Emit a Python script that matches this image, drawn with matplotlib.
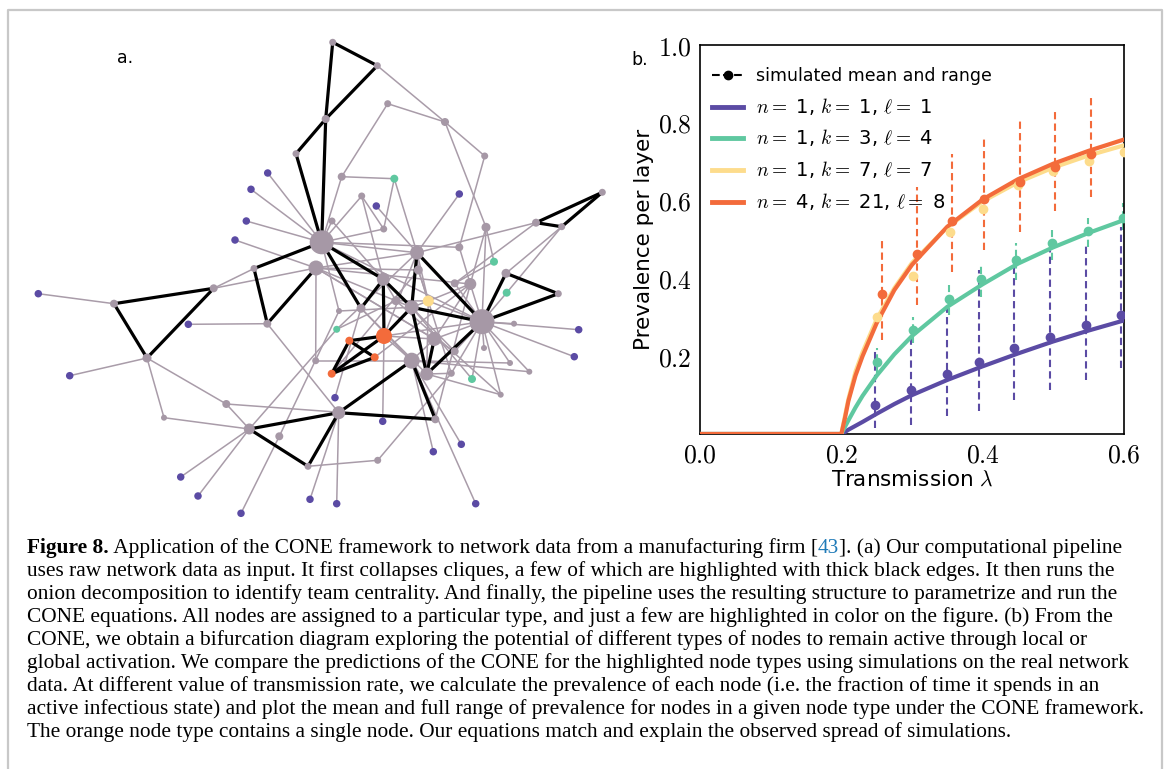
import matplotlib
matplotlib.use('Agg')
import matplotlib.pyplot as plt
from matplotlib.lines import Line2D
from matplotlib.legend_handler import HandlerLine2D

plt.rcParams['mathtext.fontset'] = 'cm'
plt.rcParams['font.family'] = 'DejaVu Sans'

#colours of the node types
PURPLE = '#5b4ba4'
TEAL = '#5fc8a0'
YELLOW = '#fddc8c'
ORANGE = '#f36b3b'
NODE_GRAY = '#a698a6'
EDGE_GRAY = '#a99ca9'

#---------------- panel b data ----------------
#theory curves (CONE)
lam_curve = [0.0, 0.2, 0.205, 0.21, 0.22, 0.23, 0.25, 0.275, 0.3, 0.35, 0.4, 0.45, 0.5, 0.55, 0.6]
prev_purple = [0.0, 0.0, 0.005, 0.011, 0.021, 0.031, 0.052, 0.077, 0.1, 0.139, 0.174, 0.207, 0.238, 0.266, 0.292]
prev_teal = [0.0, 0.0, 0.018, 0.035, 0.068, 0.098, 0.15, 0.205, 0.252, 0.327, 0.385, 0.438, 0.48, 0.517, 0.55]
prev_yellow = [0.0, 0.0, 0.045, 0.09, 0.16, 0.21, 0.295, 0.375, 0.44, 0.532, 0.598, 0.647, 0.685, 0.716, 0.742]
prev_orange = [0.0, 0.0, 0.04, 0.085, 0.15, 0.2, 0.285, 0.37, 0.435, 0.533, 0.603, 0.655, 0.695, 0.728, 0.757]

#simulations: mean and full range
sim_lam_purple = [0.248, 0.299, 0.349, 0.395, 0.445, 0.495, 0.546, 0.596]
sim_mean_purple = [0.075, 0.113, 0.153, 0.184, 0.222, 0.249, 0.28, 0.306]
sim_lo_purple = [0.015, 0.023, 0.045, 0.058, 0.087, 0.113, 0.139, 0.169]
sim_hi_purple = [0.216, 0.267, 0.344, 0.422, 0.456, 0.473, 0.49, 0.533]

sim_lam_teal = [0.25, 0.301, 0.352, 0.398, 0.447, 0.498, 0.549, 0.598]
sim_mean_teal = [0.186, 0.267, 0.346, 0.398, 0.447, 0.492, 0.522, 0.556]
sim_lo_teal = [0.156, 0.233, 0.306, 0.353, 0.396, 0.447, 0.482, 0.524]
sim_hi_teal = [0.22, 0.30, 0.383, 0.434, 0.49, 0.524, 0.554, 0.593]

sim_lam_yellow = [0.25, 0.302, 0.354, 0.4, 0.45, 0.5, 0.55, 0.6]
sim_mean_yellow = [0.30, 0.406, 0.518, 0.578, 0.64, 0.676, 0.702, 0.725]

sim_lam_orange = [0.257, 0.307, 0.356, 0.402, 0.453, 0.503, 0.553]
sim_mean_orange = [0.36, 0.463, 0.548, 0.604, 0.649, 0.687, 0.72]
sim_lo_orange = [0.242, 0.332, 0.417, 0.473, 0.52, 0.572, 0.61]
sim_hi_orange = [0.507, 0.636, 0.721, 0.766, 0.807, 0.833, 0.867]

legend_labels = ['simulated mean and range',
                 r'$n=$ 1, $k=$ 1, $\ell=$ 1',
                 r'$n=$ 1, $k=$ 3, $\ell=$ 4',
                 r'$n=$ 1, $k=$ 7, $\ell=$ 7',
                 r'$n=$ 4, $k=$ 21, $\ell=$ 8']

x_ticks = [0.0, 0.2, 0.4, 0.6]
y_ticks = [0.2, 0.4, 0.6, 0.8, 1.0]

#---------------- panel a data (network layout) ----------------
#node positions in the layout frame, kind and diameter
node_x = [332.7, 377.3, 325.7, 296, 387.7, 445, 484.7, 341.7, 361.7, 332,
          383.7, 321.7, 316, 254, 417, 459.3, 486, 536, 561.7, 602.3,
          506, 558.3, 470.3, 454.7, 418.3, 383.3, 396, 411.7, 361, 339,
          482, 514, 434.3, 484, 454.7, 411.7, 315.7, 510, 529.3, 426.7,
          451.3, 500.7, 338.7, 435.3, 377.7, 308, 114, 213.7, 267.3, 147,
          226.3, 164, 249.3, 279.3,
          394.3, 494, 506.7, 336.7, 472,
          428.3,
          384, 349.3, 374.7, 331.7,
          267.7, 251, 246.3, 235, 459.3, 376.3, 38.3, 188.3, 69.7, 180.7,
          198, 241, 310, 336.7, 335, 382.7, 433.3, 461.3, 475.7, 578.7, 574.3]
node_y = [42.3, 65.7, 119, 153.7, 103.7, 122, 156, 176.7, 196, 221,
          229, 242.3, 268, 268.5, 252.7, 247.3, 227.3, 222.7, 226.7, 192.3,
          273.3, 293.7, 284, 283.3, 270, 279.3, 300.7, 307.3, 308.3, 311,
          321.7, 323.7, 339, 348, 351.3, 360.7, 360.7, 363, 371.7, 374,
          373.3, 394.7, 412.7, 419.3, 460.3, 466.3, 303.7, 288.3, 323.7, 358,
          404, 417.7, 429, 436.3,
          178.7, 261.7, 292.7, 329.3, 379,
          301,
          336, 340.7, 357.3, 373.7,
          173, 189.3, 221, 240, 194, 206, 293.7, 324.3, 375.7, 477,
          496, 513.3, 499.3, 503.7, 397.7, 421.3, 451.7, 444.3, 503.7, 329.7, 356.7]
node_kind = ['g'] * 54 + ['t'] * 5 + ['y'] + ['o'] * 4 + ['p'] * 21
node_d = [7, 7, 8, 7, 7, 8, 7, 8, 7, 7,
          7, 24, 15, 7, 14, 8, 9, 8, 7, 7,
          9, 7, 12, 8, 9, 13, 9, 14, 9, 6,
          25, 6, 14, 6, 8, 16, 7, 6, 6, 13,
          7, 6, 13, 8, 7, 7, 8, 8, 8, 9,
          8, 6, 11, 8,
          8, 8, 8, 7, 8,
          11,
          16, 8, 8, 8] + [7.5] * 21

#clique edges (thick black)
black_edges = [(0, 1), (0, 2), (1, 2), (2, 3), (2, 11), (3, 11), (11, 13), (13, 48), (48, 12),
               (46, 47), (46, 49), (47, 49), (52, 42), (52, 45), (45, 42), (42, 43), (43, 35),
               (42, 35), (11, 25), (11, 28), (25, 28), (25, 60), (25, 27), (14, 27), (14, 30),
               (27, 30), (27, 60), (27, 39), (30, 20), (20, 21), (21, 30), (30, 39), (32, 39),
               (60, 61), (61, 63), (61, 62), (60, 63), (62, 63), (17, 18), (17, 19), (18, 19)]
#other edges (gray)
gray_edges = [(1, 5), (5, 4), (4, 7), (5, 6), (5, 16), (6, 15), (7, 54), (7, 11), (54, 10),
              (54, 14), (8, 11), (8, 10), (8, 25), (9, 11), (9, 25), (10, 11), (64, 11), (65, 11),
              (66, 11), (67, 12), (68, 14), (69, 14), (11, 14), (11, 15), (11, 30), (12, 24),
              (12, 27), (12, 32), (12, 14), (14, 17), (15, 22), (16, 55), (16, 30), (16, 22),
              (17, 23), (18, 20), (18, 56), (55, 23), (24, 14), (24, 59), (26, 59), (26, 25),
              (59, 14), (59, 30), (59, 27), (59, 22), (59, 39), (29, 11), (29, 27), (57, 26),
              (28, 35), (60, 14), (60, 35), (60, 30), (60, 32), (32, 30), (32, 22), (32, 35),
              (33, 30), (34, 30), (34, 27), (37, 30), (38, 30), (41, 30), (31, 30), (83, 30),
              (84, 30), (40, 30), (58, 27), (58, 30), (56, 30), (22, 30), (23, 30), (35, 37),
              (35, 38), (39, 41), (39, 40), (36, 12), (36, 35), (44, 40), (44, 45), (42, 76),
              (42, 77), (35, 81), (35, 82), (35, 80), (79, 60), (78, 28), (75, 53), (53, 29),
              (52, 73), (52, 74), (52, 50), (52, 51), (52, 57), (50, 49), (51, 49), (50, 43),
              (48, 71), (48, 42), (47, 13), (47, 12), (46, 70), (49, 72), (12, 22), (28, 39),
              (26, 41), (62, 22), (63, 24), (57, 14), (43, 22), (40, 24), (34, 12)]

caption_lines = [
    'uses raw network data as input. It first collapses cliques, a few of which are highlighted with thick black edges. It then runs the',
    'onion decomposition to identify team centrality. And finally, the pipeline uses the resulting structure to parametrize and run the',
    'CONE equations. All nodes are assigned to a particular type, and just a few are highlighted in color on the figure. (b) From the',
    'CONE, we obtain a bifurcation diagram exploring the potential of different types of nodes to remain active through local or',
    'global activation. We compare the predictions of the CONE for the highlighted node types using simulations on the real network',
    'data. At different value of transmission rate, we calculate the prevalence of each node (i.e. the fraction of time it spends in an',
    'active infectious state) and plot the mean and full range of prevalence for nodes in a given node type under the CONE framework.',
    'The orange node type contains a single node. Our equations match and explain the observed spread of simulations.',
]
#first caption line: (text, weight, colour)
caption_first = [('Figure 8.', 'bold', 'black'),
                 (' Application of the CONE framework to network data from a manufacturing firm [', 'normal', 'black'),
                 ('43', 'normal', '#1f7ab8'),
                 ('].  (a) Our computational pipeline', 'normal', 'black')]


class ShortLine(HandlerLine2D):
    #legend line drawn shorter than the handle box
    def create_artists(self, legend, orig_handle, xdescent, ydescent, width, height, fontsize, trans):
        artists = super().create_artists(legend, orig_handle, xdescent, ydescent, width, height,
                                         fontsize, trans)
        for a in artists:
            xd = list(a.get_xdata())
            if len(xd) == 2:
                c = (xd[0] + xd[1]) / 2
                h = (xd[1] - xd[0]) / 2 * 0.62
                a.set_xdata([c - h, c + h])
        return artists


W, H = 1167, 769
fig = plt.figure(figsize=(W / 100, H / 100), dpi=100)

#---- background axes in pixel units: frame + network ----
ax_net = fig.add_axes([0, 0, 1, 1])
ax_net.set_xlim(0, W)
ax_net.set_ylim(H, 0)
ax_net.axis('off')
ax_net.plot([7.5, 7.5, 1162, 1162], [H, 10, 10, H], color='#c8c8c8', lw=1.6, zorder=0)

for a, b in gray_edges:
    ax_net.plot([node_x[a], node_x[b]], [node_y[a], node_y[b]], color=EDGE_GRAY, lw=1.1, zorder=1)
for a, b in black_edges:
    ax_net.plot([node_x[a], node_x[b]], [node_y[a], node_y[b]], color='black', lw=2.3, zorder=2,
                solid_capstyle='round')

kind_color = {'g': NODE_GRAY, 't': TEAL, 'y': YELLOW, 'o': ORANGE, 'p': PURPLE}
ax_net.scatter(node_x, node_y, s=[(d * 0.72) ** 2 for d in node_d],
               c=[kind_color[k] for k in node_kind], linewidths=0, zorder=3)

fig.text(125 / W, 1 - 58 / H, 'a.', fontsize=12.5, ha='center', va='center')
fig.text(640 / W, 1 - 60 / H, 'b.', fontsize=12.5, ha='center', va='center')

#---- panel b ----
ax = fig.add_axes([700 / W, 1 - 434 / H, 424 / W, 389 / H])
ax.plot(lam_curve, prev_purple, color=PURPLE, lw=3, zorder=3)
ax.plot(lam_curve, prev_teal, color=TEAL, lw=3, zorder=3)
ax.plot(lam_curve, prev_yellow, color=YELLOW, lw=3, zorder=3)
ax.plot(lam_curve, prev_orange, color=ORANGE, lw=3, zorder=3)

dash = (0, (3.5, 2))
ax.vlines(sim_lam_purple, sim_lo_purple, sim_hi_purple, colors=PURPLE, linestyles=dash, lw=1.5, zorder=2)
ax.vlines(sim_lam_teal, sim_lo_teal, sim_hi_teal, colors=TEAL, linestyles=dash, lw=1.5, zorder=2)
ax.vlines(sim_lam_orange, sim_lo_orange, sim_hi_orange, colors=ORANGE, linestyles=dash, lw=1.5, zorder=2)
ax.plot(sim_lam_purple, sim_mean_purple, 'o', color=PURPLE, ms=6, zorder=4)
ax.plot(sim_lam_teal, sim_mean_teal, 'o', color=TEAL, ms=6, zorder=4)
ax.plot(sim_lam_yellow, sim_mean_yellow, 'o', color=YELLOW, ms=6, zorder=4)
ax.plot(sim_lam_orange, sim_mean_orange, 'o', color=ORANGE, ms=6, zorder=4)

ax.set_xlim(0, 0.6)
ax.set_ylim(0, 1.0)
ax.set_xticks(x_ticks)
ax.set_xticklabels(['$%.1f$' % v for v in x_ticks])
ax.set_yticks(y_ticks)
ax.set_yticklabels(['$%.1f$' % v for v in y_ticks])
ax.tick_params(length=0, labelsize=18.5, pad=6)
for sp in ax.spines.values():
    sp.set_linewidth(1.2)
ax.set_xlabel(r'Transmission $\lambda$', fontsize=15.5, labelpad=1)
ax.set_ylabel('Prevalence per layer', fontsize=15.5, labelpad=3)

handles = [Line2D([], [], color='black', ls='--', lw=1.5, marker='o', ms=6),
           Line2D([], [], color=PURPLE, lw=3.5),
           Line2D([], [], color=TEAL, lw=3.5),
           Line2D([], [], color=YELLOW, lw=3.5),
           Line2D([], [], color=ORANGE, lw=3.5)]
short = ShortLine()
leg = ax.legend(handles, legend_labels, loc='upper left', bbox_to_anchor=(0.0, 0.975), frameon=False,
                fontsize=12.5, handlelength=1.8, handletextpad=0.7, labelspacing=0.62,
                numpoints=1, borderaxespad=0.3,
                handler_map={h: short for h in handles[1:]})
for t in leg.get_texts()[1:]:
    t.set_fontsize(14)

#---- caption ----
cap_font = dict(family='Liberation Serif', fontsize=15.4, va='baseline', ha='left')
renderer = fig.canvas.get_renderer()
x_px = 27
y0 = 553
for txt, weight, col in caption_first:
    t = fig.text(x_px / W, 1 - y0 / H, txt.replace('  ', ' '), fontweight=weight, color=col, **cap_font)
    x_px = t.get_window_extent(renderer).x1
for i, line in enumerate(caption_lines):
    fig.text(27 / W, 1 - (y0 + 23 * (i + 1)) / H, line, **cap_font)

fig.savefig('out.png', dpi=100)
